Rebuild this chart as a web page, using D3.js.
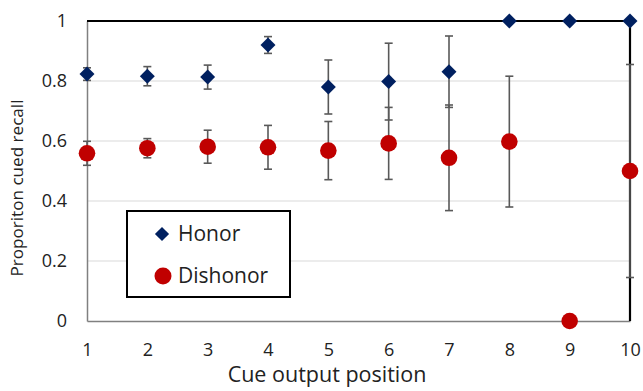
<!DOCTYPE html>
<html>
<head>
<meta charset="utf-8">
<script src="https://cdn.jsdelivr.net/npm/d3@7"></script>
<style>
  body { margin: 0; background: #fff; }
  text { font-family: "Open Sans", "Noto Sans", sans-serif; fill: #222; }
</style>
</head>
<body>
<div id="chart"></div>
<script>
// data
var positions = [1, 2, 3, 4, 5, 6, 7, 8, 9, 10];
var honor = [0.823, 0.816, 0.813, 0.92, 0.78, 0.798, 0.831, 1, 1, 1];
var honorErr = [0.021, 0.032, 0.04, 0.028, 0.09, 0.128, 0.119, 0, 0, 0];
var dishonor = [0.559, 0.576, 0.581, 0.579, 0.568, 0.592, 0.544, 0.598, 0, 0.5];
var dishonorErr = [0.04, 0.032, 0.055, 0.073, 0.097, 0.12, 0.176, 0.218, 0, 0.355];
var yTicks = [0, 0.2, 0.4, 0.6, 0.8, 1];

var W = 643, H = 391;
var margin = { top: 21, right: 13, bottom: 70, left: 87 };
var width = W - margin.left - margin.right,
    height = H - margin.top - margin.bottom;

var x = d3.scaleLinear().domain([1, 10]).range([0, width]);
var y = d3.scaleLinear().domain([0, 1]).range([height, 0]);

var svg = d3.select("#chart").append("svg")
  .attr("width", W).attr("height", H)
  .append("g")
  .attr("transform", "translate(" + margin.left + "," + margin.top + ")");

// gridlines
svg.selectAll(".grid")
  .data(yTicks.filter(function (d) { return d > 0 && d < 1; }))
  .enter().append("line")
  .attr("x1", 0).attr("x2", width)
  .attr("y1", function (d) { return y(d); })
  .attr("y2", function (d) { return y(d); })
  .attr("stroke", "#d9d9d9").attr("stroke-width", 1.2);

// axes
var yAxis = d3.axisLeft(y).tickValues(yTicks).tickSize(0).tickPadding(20)
  .tickFormat(function (d) { return d === 0 || d === 1 ? d : d.toFixed(1); });
var gy = svg.append("g").call(yAxis);
gy.select(".domain").attr("stroke", "#808080").attr("stroke-width", 1.5);
gy.selectAll("text").style("font-size", "18px").attr("fill", "#222");

var xAxis = d3.axisBottom(x).tickValues(positions).tickSize(0).tickPadding(22)
  .tickFormat(d3.format("d"));
var gx = svg.append("g").attr("transform", "translate(0," + height + ")").call(xAxis);
gx.select(".domain").attr("stroke", "#808080").attr("stroke-width", 1.5);
gx.selectAll("text").style("font-size", "18px").attr("fill", "#222");

// top and right border
svg.append("path")
  .attr("d", "M0," + y(1) + "H" + width + "V" + height)
  .attr("fill", "none").attr("stroke", "#000").attr("stroke-width", 2.2);

// error bars
function errorBars(vals, errs) {
  var rows = vals.map(function (v, i) { return { p: positions[i], v: v, e: errs[i] }; })
    .filter(function (d) { return d.e > 0; });
  var g = svg.append("g").attr("stroke", "#595959").attr("stroke-width", 1.6);
  g.selectAll(".bar").data(rows).enter().append("line")
    .attr("x1", function (d) { return x(d.p); }).attr("x2", function (d) { return x(d.p); })
    .attr("y1", function (d) { return y(d.v + d.e); }).attr("y2", function (d) { return y(d.v - d.e); });
  [1, -1].forEach(function (s) {
    g.selectAll(".cap" + s).data(rows).enter().append("line")
      .attr("x1", function (d) { return x(d.p) - 4; }).attr("x2", function (d) { return x(d.p) + 4; })
      .attr("y1", function (d) { return y(d.v + s * d.e); }).attr("y2", function (d) { return y(d.v + s * d.e); });
  });
}
errorBars(honor, honorErr);
errorBars(dishonor, dishonorErr);

// diamond = square turned 45 degrees
var diamond = d3.symbol().type(d3.symbolSquare).size(112);

svg.selectAll(".honor").data(honor).enter().append("path")
  .attr("d", diamond)
  .attr("transform", function (d, i) { return "translate(" + x(positions[i]) + "," + y(d) + ") rotate(45)"; })
  .attr("fill", "#002060");

svg.selectAll(".dishonor").data(dishonor).enter().append("circle")
  .attr("cx", function (d, i) { return x(positions[i]); })
  .attr("cy", function (d) { return y(d); })
  .attr("r", 8.3)
  .attr("fill", "#c00000");

// axis titles
svg.append("text")
  .attr("x", 240).attr("y", height + 61)
  .attr("text-anchor", "middle").style("font-size", "21.5px")
  .text("Cue output position");

svg.append("text")
  .attr("transform", "translate(-64," + (height / 2 + 17) + ") rotate(-90)")
  .attr("text-anchor", "middle").style("font-size", "17.1px")
  .text("Proporiton cued recall");

// legend
var legend = svg.append("g").attr("transform", "translate(" + (127 - margin.left) + "," + (211 - margin.top) + ")");
legend.append("rect").attr("width", 163).attr("height", 86)
  .attr("fill", "#fff").attr("stroke", "#000").attr("stroke-width", 2);
legend.append("path").attr("d", d3.symbol().type(d3.symbolSquare).size(100))
  .attr("transform", "translate(35,23) rotate(45)").attr("fill", "#002060");
legend.append("circle").attr("cx", 36).attr("cy", 65).attr("r", 8.5).attr("fill", "#c00000");
legend.append("text").attr("x", 51).attr("y", 30).style("font-size", "21px").text("Honor");
legend.append("text").attr("x", 51).attr("y", 72).style("font-size", "21px").text("Dishonor");
</script>
</body>
</html>
